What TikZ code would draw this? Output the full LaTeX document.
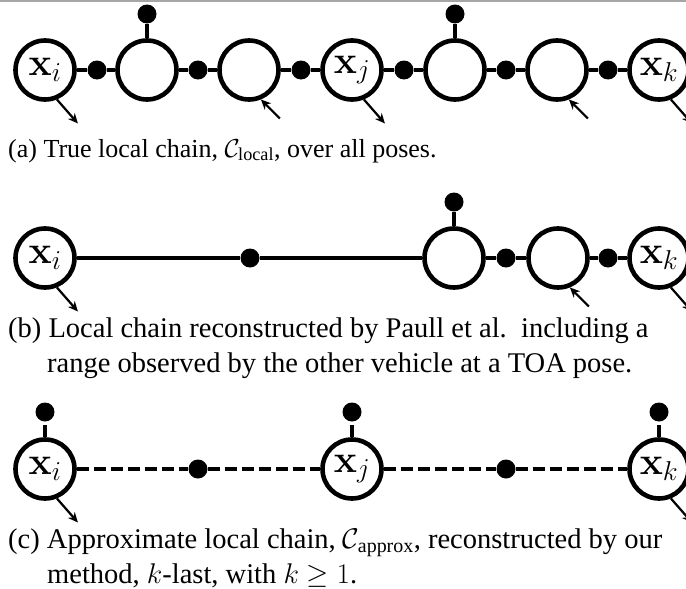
\RequirePackage{fix-cm}
\documentclass[tikz,border=0pt]{standalone}
\usepackage{amsmath}
\usepackage[no-math]{fontspec}
\setmainfont{Liberation Serif}
\usetikzlibrary{arrows.meta,calc}
\begin{document}
\begin{tikzpicture}[x=1pt,y=-1pt,
  pose/.style={circle, draw, line width=4.6pt, minimum size=59pt, inner sep=0pt, fill=white, font=\fontsize{39}{39}\selectfont},
  fac/.style={circle, fill=black, minimum size=19pt, inner sep=0pt},
  link/.style={line width=4.5pt},
  dlink/.style={line width=4.5pt, dash pattern=on 12pt off 5pt},
  obsout/.style={line width=2.2pt, -{Stealth[length=10pt,width=9pt]}},
  obsin/.style={line width=2.2pt, {Stealth[length=10pt,width=9pt]}-},
  captext/.style={anchor=base west, inner sep=0pt, font=\fontsize{28.5}{30}\selectfont},
  captexta/.style={anchor=base west, inner sep=0pt, font=\fontsize{26}{30}\selectfont}]
\useasboundingbox (0,0) rectangle (686,589);
\draw[gray!70, line width=2pt] (0,1) -- (686,1);
% ---------- panel (a)
\node[pose] (a1) at (45,70) {$\mathbf{x}_i$};
\node[fac]  (fa1) at (97,70) {};
\node[pose] (a2) at (147,70) {};
\node[fac]  (fa2) at (198,70) {};
\node[pose] (a3) at (249,70) {};
\node[fac]  (fa3) at (301,70) {};
\node[pose] (a4) at (352,70) {$\mathbf{x}_j$};
\node[fac]  (fa4) at (404,70) {};
\node[pose] (a5) at (455,70) {};
\node[fac]  (fa5) at (506,70) {};
\node[pose] (a6) at (557,70) {};
\node[fac]  (fa6) at (608,70) {};
\node[pose] (a7) at (659,70) {$\mathbf{x}_k$};
\node[fac]  (ta2) at (147,14) {};
\node[fac]  (ta5) at (455,14) {};
\draw[link] (a1) -- (fa1) -- (a2) -- (fa2) -- (a3) -- (fa3) -- (a4) -- (fa4) -- (a5) -- (fa5) -- (a6) -- (fa6) -- (a7);
\draw[link] (a2) -- (ta2);
\draw[link] (a5) -- (ta5);
\draw[obsout] (a1.-68) -- ++(21,24);
\draw[obsin]  (a3.-68) -- ++(19,19);
\draw[obsout] (a4.-68) -- ++(21,24);
\draw[obsin]  (a6.-68) -- ++(19,19);
\draw[obsout] (a7.-68) -- ++(21,24);
\node[captexta] (capa) at (8,157) {(a) True local chain, $\mathcal{C}_{\text{local}}$, over all poses.};
% ---------- panel (b)
\node[pose] (b1) at (45,258) {$\mathbf{x}_i$};
\node[fac]  (fb1) at (250,258) {};
\node[pose] (b2) at (454,258) {};
\node[fac]  (fb2) at (506,258) {};
\node[pose] (b3) at (558,258) {};
\node[fac]  (fb3) at (608,258) {};
\node[pose] (b4) at (659,258) {$\mathbf{x}_k$};
\node[fac]  (tb2) at (454,202) {};
\draw[link] (b1) -- (fb1) -- (b2) -- (fb2) -- (b3) -- (fb3) -- (b4);
\draw[link] (b2) -- (tb2);
\draw[obsout] (b1.-68) -- ++(21,24);
\draw[obsin]  (b3.-68) -- ++(19,19);
\draw[obsout] (b4.-68) -- ++(21,24);
\node[captext] (capb1) at (8,337) {(b) Local chain reconstructed by Paull et al.\ \ including a};
\node[captext] (capb2) at (47,372) {range observed by the other vehicle at a TOA pose.};
% ---------- panel (c)
\node[pose] (c1) at (45,469) {$\mathbf{x}_i$};
\node[fac]  (fc1) at (198,469) {};
\node[pose] (c2) at (352,469) {$\mathbf{x}_j$};
\node[fac]  (fc2) at (506,469) {};
\node[pose] (c3) at (659,469) {$\mathbf{x}_k$};
\node[fac]  (tc1) at (45,412) {};
\node[fac]  (tc2) at (352,412) {};
\node[fac]  (tc3) at (659,412) {};
\draw[dlink] (c1) -- (fc1);
\draw[dlink] (fc1) -- (c2);
\draw[dlink] (c2) -- (fc2);
\draw[dlink] (fc2) -- (c3);
\draw[dlink] (c1) -- (tc1);
\draw[dlink] (c2) -- (tc2);
\draw[dlink] (c3) -- (tc3);
\draw[obsout] (c1.-68) -- ++(21,24);
\draw[obsout] (c3.-68) -- ++(21,24);
\node[captext] (capc1) at (8,548) {(c) Approximate local chain, $\mathcal{C}_{\text{approx}}$, reconstructed by our};
\node[captext] (capc2) at (47,583) {method, $k$-last, with $k \geq 1$.};
\end{tikzpicture}
\end{document}
